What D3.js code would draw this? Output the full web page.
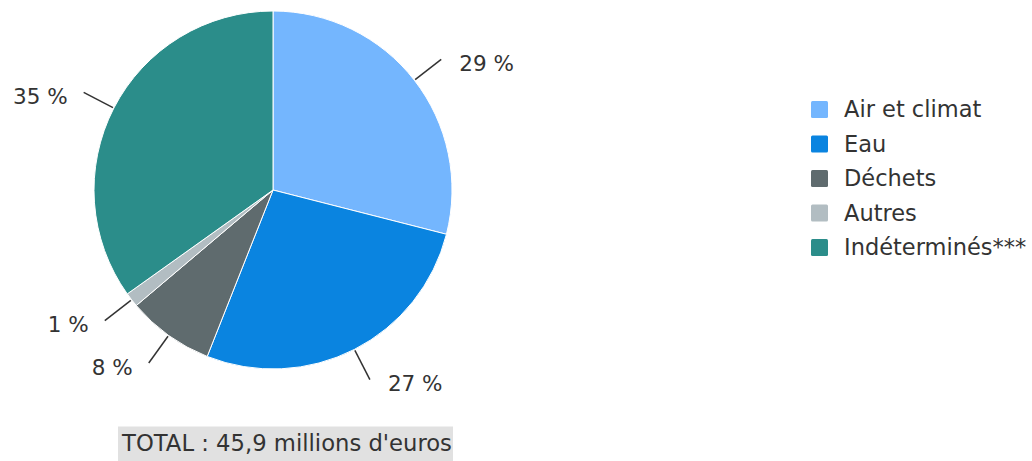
<!DOCTYPE html>
<html><head><meta charset="utf-8">
<script src="https://cdn.jsdelivr.net/npm/d3@7"></script>
<style>
html,body{margin:0;padding:0;background:#fff;}
svg{display:block;font-family:"DejaVu Sans",sans-serif;}
</style></head>
<body>
<svg id="chart" width="1032" height="461"></svg>
<script>
const categories = ["Air et climat", "Eau", "Déchets", "Autres", "Indéterminés***"];
const values = [13.3, 12.4, 3.6, 0.6, 16.0]; // millions d'euros
const colors = ["#74b6fe", "#0a84e0", "#5f6b6e", "#b2bdc2", "#2b8d8a"];
const totalLabel = "TOTAL : 45,9 millions d'euros";

const svg = d3.select("#chart");
const cx = 273, cy = 190, r = 179;
const total = d3.sum(values);
const data = categories.map((c, i) => ({cat: c, value: values[i], color: colors[i]}));

const pie = d3.pie().value(d => d.value).sort(null);
const arcs = pie(data);
const arc = d3.arc().innerRadius(0).outerRadius(r);

const g = svg.append("g").attr("transform", `translate(${cx},${cy})`);
g.selectAll("path.slice").data(arcs).join("path")
  .attr("class", "slice")
  .attr("d", arc)
  .attr("fill", d => d.data.color)
  .attr("stroke", "#fff").attr("stroke-width", 1).attr("stroke-linejoin", "round");

// labels
const fmt = v => Math.round(v / total * 100) + " %";
arcs.forEach(a => {
  const mid = (a.startAngle + a.endAngle) / 2;
  const sx = Math.sin(mid), sy = -Math.cos(mid);
  const p0 = [sx * (r + 1), sy * (r + 1)];
  const p1 = [sx * (r + 34), sy * (r + 34)];
  g.append("line")
    .attr("x1", p0[0]).attr("y1", p0[1]).attr("x2", p1[0]).attr("y2", p1[1])
    .attr("stroke", "#333").attr("stroke-width", 1.5);
  const right = sx >= 0;
  g.append("text")
    .attr("x", p1[0] + (right ? 18 : -16))
    .attr("y", p1[1] + 4)
    .attr("dy", "0.35em")
    .attr("text-anchor", right ? "start" : "end")
    .attr("fill", "#333").attr("font-size", 21.5)
    .text(fmt(a.data.value));
});

// legend
const legendY = d3.scalePoint().domain(categories).range([109.5, 247.5]);
const lg = svg.append("g");
categories.forEach((c, i) => {
  const y = legendY(c);
  lg.append("rect").attr("x", 811).attr("y", y - 8.5).attr("width", 17).attr("height", 17)
    .attr("rx", 1.5).attr("fill", colors[i]);
  lg.append("text").attr("x", 844).attr("y", y).attr("dy", "0.35em")
    .attr("fill", "#333").attr("font-size", 22.5).text(c);
});

// total box
const tb = svg.append("g");
tb.append("rect").attr("x", 118).attr("y", 426.5).attr("width", 335).attr("height", 40)
  .attr("fill", "#e1e1e1");
tb.append("text").attr("x", 287).attr("y", 443).attr("dy", "0.35em")
  .attr("text-anchor", "middle").attr("fill", "#333").attr("font-size", 22.7).text(totalLabel);
</script>
</body></html>
